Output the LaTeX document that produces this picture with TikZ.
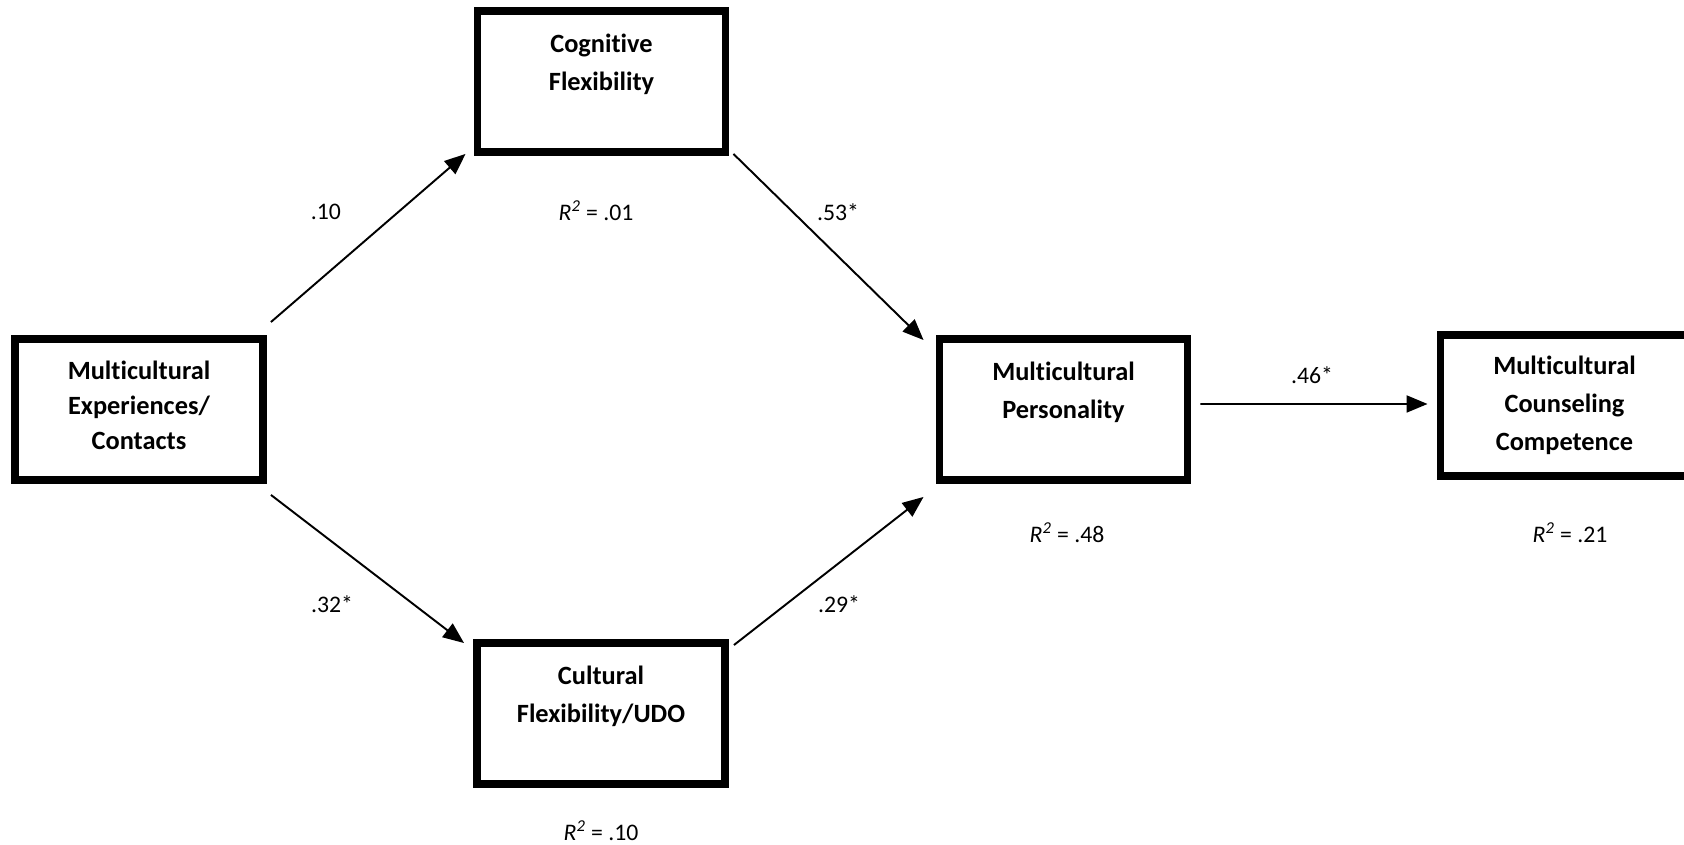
\documentclass[tikz,border=0pt]{standalone}
\usepackage{fontspec}
\setmainfont{Carlito}[Ligatures=NoCommon]
\usetikzlibrary{calc,arrows.meta}
\tikzset{
  varbox/.style={draw, line width=4.5pt, minimum width=4.96cm, minimum height=2.82cm,
    inner sep=0pt, align=center, font=\bfseries\fontsize{15}{21.5}\selectfont},
  path arrow/.style={line width=1.1pt, -{Triangle[length=0.42cm,width=0.34cm]}},
  coef/.style={font=\fontsize{13.5}{16}\selectfont}
}
\begin{document}
\begin{tikzpicture}
  \useasboundingbox (0,0) rectangle (33.68,16.9);
  % variables
  \node[varbox, font=\bfseries\fontsize{15}{19.8}\selectfont] (exp) at (2.78,8.71) {Multicultural\\Experiences/\\Contacts\\[-15pt]\mbox{}};
  \node[varbox] (cog) at (12.03,15.27) {Cognitive\\Flexibility\\\mbox{}};
  \node[varbox] (udo) at (12.02,2.63) {Cultural\\Flexibility/UDO\\\mbox{}};
  \node[varbox] (pers) at (21.27,8.71) {Multicultural\\Personality\\\mbox{}};
  \node[varbox] (comp) at (31.29,8.79) {Multicultural\\Counseling\\Competence};
  % paths
  \draw[path arrow] ($(exp.north east)+(0.08,0.26)$) -- ($(cog.south west)+(-0.16,0.04)$);
  \draw[path arrow] ($(cog.south east)+(0.08,0.04)$) -- ($(pers.north west)+(-0.24,-0.10)$);
  \draw[path arrow] ($(exp.south east)+(0.08,-0.22)$) -- ($(udo.north west)+(-0.18,-0.08)$);
  \draw[path arrow] ($(udo.north east)+(0.10,-0.12)$) -- ($(pers.south west)+(-0.24,-0.26)$);
  \draw[path arrow] ($(pers.east)+(0.18,0.11)$) -- ($(comp.west)+(-0.18,0.03)$);
  % coefficients
  \node[coef] (b1) at (6.52,12.66) {.10};
  \node[coef] (b2) at (16.76,12.66) {.53*};
  \node[coef] (b3) at (6.64,4.82) {.32*};
  \node[coef] (b4) at (16.78,4.82) {.29*};
  \node[coef] (b5) at (26.24,9.40) {.46*};
  \node[coef] (r1) at (11.92,12.69) {\textit{R\textsuperscript{2}} = .01};
  \node[coef] (r2) at (12.02,0.28) {\textit{R\textsuperscript{2}} = .10};
  \node[coef] (r3) at (21.34,6.24) {\textit{R\textsuperscript{2}} = .48};
  \node[coef] (r4) at (31.40,6.24) {\textit{R\textsuperscript{2}} = .21};
\end{tikzpicture}
\end{document}
